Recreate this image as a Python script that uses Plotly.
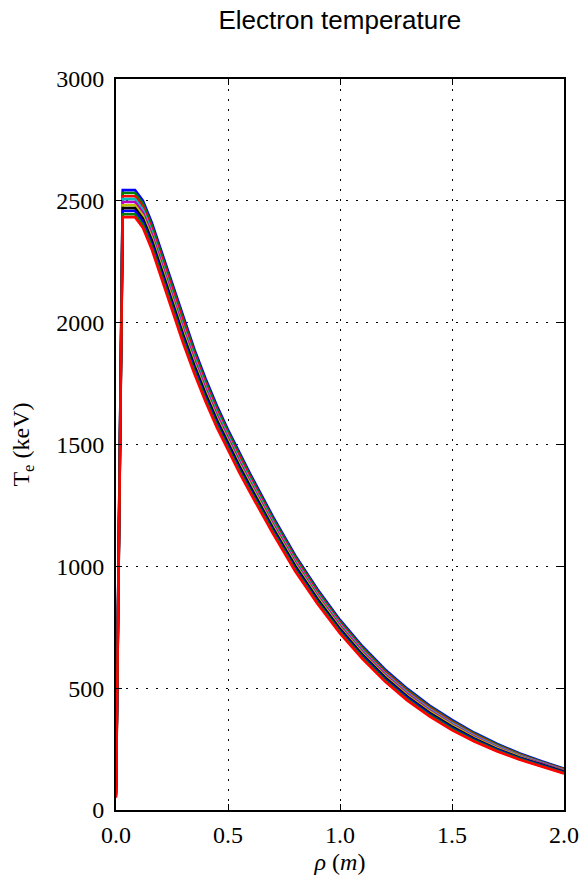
import plotly.graph_objects as go

# radial coordinate rho (m)
rho = [0.0, 0.03, 0.085, 0.12, 0.16, 0.2, 0.25, 0.3, 0.35, 0.4, 0.45, 0.5, 0.55, 0.6,
       0.7, 0.8, 0.9, 1.0, 1.1, 1.2, 1.3, 1.4, 1.5, 1.6, 1.7, 1.8, 1.9, 2.0]

# electron temperature profiles (keV), one per time slice, top to bottom
te_0 = [100, 2544, 2544, 2501, 2410, 2300, 2158, 2020, 1890, 1770, 1660, 1560, 1466, 1378, 1205, 1045, 905, 780, 672, 578, 498, 429, 370, 317, 272, 233, 200, 170]
te_1 = [94, 2532, 2532, 2489, 2398, 2288, 2146, 2008, 1879, 1759, 1650, 1551, 1457, 1369, 1197, 1038, 898, 774, 666, 572, 493, 424, 365, 313, 269, 230, 197, 168]
te_2 = [89, 2519, 2519, 2476, 2386, 2276, 2134, 1997, 1868, 1749, 1640, 1541, 1448, 1361, 1189, 1031, 892, 768, 660, 567, 487, 419, 361, 309, 265, 227, 195, 166]
te_3 = [83, 2507, 2507, 2464, 2373, 2263, 2122, 1985, 1857, 1738, 1630, 1532, 1439, 1352, 1182, 1023, 885, 762, 655, 561, 482, 414, 356, 305, 262, 224, 192, 163]
te_4 = [78, 2495, 2495, 2452, 2361, 2251, 2110, 1973, 1846, 1728, 1620, 1522, 1430, 1343, 1174, 1016, 878, 756, 649, 556, 477, 409, 351, 301, 258, 221, 190, 161]
te_5 = [72, 2482, 2482, 2439, 2349, 2239, 2098, 1962, 1834, 1717, 1610, 1513, 1421, 1335, 1166, 1009, 872, 749, 643, 550, 471, 404, 347, 297, 255, 219, 187, 159]
te_6 = [67, 2470, 2470, 2427, 2337, 2227, 2086, 1950, 1823, 1707, 1600, 1503, 1412, 1326, 1158, 1002, 865, 743, 637, 545, 466, 399, 342, 293, 251, 216, 185, 157]
te_7 = [61, 2458, 2458, 2415, 2324, 2214, 2074, 1938, 1812, 1696, 1590, 1494, 1403, 1317, 1151, 994, 858, 737, 632, 539, 461, 394, 337, 289, 248, 213, 182, 154]
te_8 = [56, 2445, 2445, 2402, 2312, 2202, 2062, 1927, 1801, 1686, 1580, 1484, 1394, 1309, 1143, 987, 852, 731, 626, 534, 455, 389, 333, 285, 244, 210, 180, 152]
te_9 = [50, 2433, 2433, 2390, 2300, 2190, 2050, 1915, 1790, 1675, 1570, 1475, 1385, 1300, 1135, 980, 845, 725, 620, 528, 450, 384, 328, 281, 241, 207, 177, 150]

profiles = [te_0, te_1, te_2, te_3, te_4, te_5, te_6, te_7, te_8, te_9]

# matplotlib classic colour cycle
colors = ["#0000ff", "#008000", "#ff0000", "#00bfbf", "#bf00bf",
          "#bfbf00", "#000000", "#0000ff", "#008000", "#ff0000"]

fig = go.Figure()
for te, c in zip(profiles, colors):
    fig.add_trace(go.Scatter(x=rho, y=te, mode="lines",
                             line=dict(color=c, width=2.6),
                             showlegend=False))

serif = "Liberation Serif"
axis_style = dict(
    showline=True, linecolor="black", linewidth=2, mirror="allticks",
    ticks="inside", ticklen=6, tickwidth=1, tickcolor="black",
    showgrid=True, gridcolor="black", gridwidth=1, griddash="2px,8px",
    zeroline=False, tickfont=dict(family=serif, size=24, color="black"),
)

fig.update_xaxes(range=[0, 2], dtick=0.5, tickformat=".1f", ticklabelstandoff=2,
                 automargin=False,
                 title=dict(text="<i>ρ</i> (<i>m</i>)", standoff=6,
                            font=dict(family=serif, size=24, color="black")),
                 **axis_style)
fig.update_yaxes(range=[0, 3000], dtick=500, ticklabelstandoff=5,
                 automargin=False,
                 title=dict(text="T<sub>e</sub> (keV)", standoff=20,
                            font=dict(family=serif, size=24, color="black")),
                 **axis_style)

fig.update_layout(
    width=584, height=886,
    margin=dict(l=116, r=20, t=79, b=76),
    plot_bgcolor="white", paper_bgcolor="white",
    title=dict(text="Electron temperature", x=0.582, xanchor="center",
               y=0.977, yanchor="middle",
               font=dict(family="Liberation Sans", size=26, color="black")),
)

# drop the default page margin so the figure sits at the window's corner
fig.write_html("out.html", config={"displayModeBar": False},
               post_script="document.body.style.margin='0';document.body.style.overflow='hidden';")
